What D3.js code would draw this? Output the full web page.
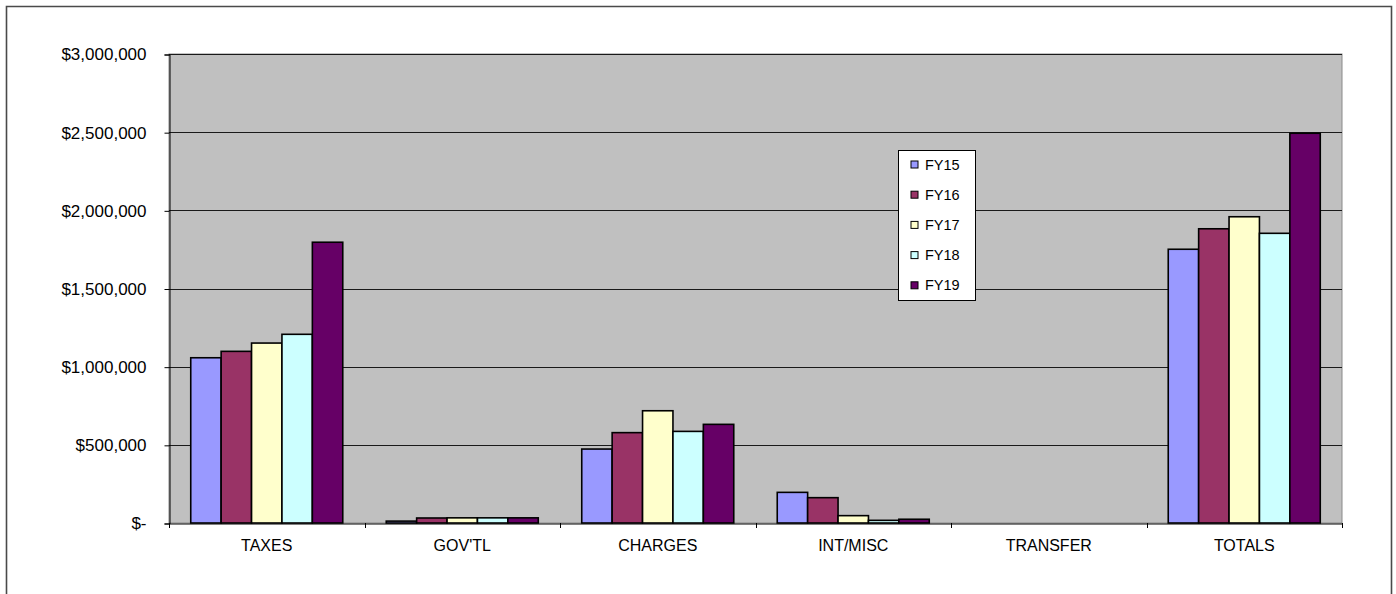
<!DOCTYPE html>
<html>
<head>
<meta charset="utf-8">
<script src="https://cdn.jsdelivr.net/npm/d3@7/dist/d3.min.js"></script>
<style>
  html, body { margin: 0; padding: 0; background: #fff; }
  svg { display: block; font-family: "Liberation Sans", Arial, sans-serif; }
</style>
</head>
<body>
<svg id="chart" width="1396" height="594"></svg>
<script>
// Revenue by source, fiscal years 15–19
const categories = ["TAXES", "GOV'TL", "CHARGES", "INT/MISC", "TRANSFER", "TOTALS"];
const seriesNames = ["FY15", "FY16", "FY17", "FY18", "FY19"];
const seriesColors = ["#9999FF", "#993366", "#FFFFCC", "#CCFFFF", "#660066"];

const fy15 = [1057000, 12000, 473000, 196000, 0, 1751000];
const fy16 = [1098000, 32000, 578000, 162000, 0, 1882000];
const fy17 = [1151000, 33000, 718000, 47000, 0, 1959000];
const fy18 = [1207000, 33000, 586000, 17000, 0, 1853000];
const fy19 = [1796000, 33000, 631000, 24000, 0, 2493000];
const seriesValues = [fy15, fy16, fy17, fy18, fy19];

const yTicks = [0, 500000, 1000000, 1500000, 2000000, 2500000, 3000000];

const svg = d3.select("#chart");
const plot = { left: 169, right: 1342, top: 54, bottom: 523 };
const FONT = "'Liberation Sans', Arial, sans-serif";

// Outer chart frame (open at the bottom edge)
svg.append("path")
  .attr("d", "M6.5,594 L6.5,6.5 L1391.5,6.5 L1391.5,594")
  .attr("fill", "none")
  .attr("stroke", "#4a4a4a")
  .attr("stroke-width", 1.6);

const x0 = d3.scaleBand().domain(categories).range([plot.left, plot.right]).paddingInner(0).paddingOuter(0);
const x1 = d3.scaleBand().domain(seriesNames).range([0, x0.bandwidth()]).paddingInner(0).paddingOuter(0.715);
const y = d3.scaleLinear().domain([0, 3000000]).range([plot.bottom, plot.top]);

// Plot area
svg.append("rect")
  .attr("x", plot.left).attr("y", plot.top)
  .attr("width", plot.right - plot.left).attr("height", plot.bottom - plot.top)
  .attr("fill", "#C0C0C0")
  .attr("stroke", "#8a8a8a").attr("stroke-width", 1);

// Horizontal gridlines
svg.append("g").selectAll("line")
  .data(yTicks.filter(d => d > 0))
  .join("line")
  .attr("x1", plot.left).attr("x2", plot.right)
  .attr("y1", d => Math.round(y(d)) + 0.5).attr("y2", d => Math.round(y(d)) + 0.5)
  .attr("stroke", "#1a1a1a").attr("stroke-width", 1);

// Y axis
const fmt = d3.format(",");
const yAxis = d3.axisLeft(y)
  .tickValues(yTicks)
  .tickSize(5)
  .tickPadding(18)
  .tickFormat(d => d === 0 ? "$-" : "$" + fmt(d));
const gy = svg.append("g").attr("transform", `translate(${plot.left + 0.5},0.5)`).call(yAxis);
gy.attr("font-size", null).attr("font-family", null);
gy.select(".domain").attr("stroke", "#000");
gy.selectAll(".tick line").attr("stroke", "#000");
gy.selectAll(".tick text").attr("font-size", 17).attr("fill", "#000").attr("font-family", FONT);

// Bars
const groups = svg.append("g").selectAll("g")
  .data(seriesNames.map((name, i) => ({ name, color: seriesColors[i], values: seriesValues[i] })))
  .join("g")
  .attr("fill", d => d.color);

groups.selectAll("rect")
  .data(d => d.values.map((v, j) => ({ series: d.name, cat: categories[j], v })).filter(e => e.v > 0))
  .join("rect")
  .attr("x", d => x0(d.cat) + x1(d.series))
  .attr("y", d => y(d.v))
  .attr("width", x1.bandwidth())
  .attr("height", d => y(0) - y(d.v))
  .attr("stroke", "#000")
  .attr("stroke-width", 1.6);

// X axis
const xAxis = d3.axisBottom(x0).tickSize(0).tickPadding(16);
const gx = svg.append("g").attr("transform", `translate(0,${plot.bottom + 0.5})`).call(xAxis);
gx.attr("font-size", null).attr("font-family", null);
gx.select(".domain").attr("stroke", "#000");
gx.selectAll(".tick text").attr("font-size", 16).attr("fill", "#000").attr("font-family", FONT);

// Category boundary tick marks
const bounds = categories.map(c => x0(c)).concat([plot.right]);
svg.append("g").selectAll("line")
  .data(bounds)
  .join("line")
  .attr("x1", d => Math.round(d) + 0.5).attr("x2", d => Math.round(d) + 0.5)
  .attr("y1", plot.bottom).attr("y2", plot.bottom + 5)
  .attr("stroke", "#000");

// Legend
const legend = svg.append("g").attr("transform", "translate(898.5,150.5)");
legend.append("rect")
  .attr("width", 77).attr("height", 150)
  .attr("fill", "#fff").attr("stroke", "#000").attr("stroke-width", 1);
const items = legend.selectAll("g.item")
  .data(seriesNames.map((name, i) => ({ name, color: seriesColors[i] })))
  .join("g")
  .attr("class", "item")
  .attr("transform", (d, i) => `translate(0,${14 + i * 30.2})`);
items.append("rect")
  .attr("x", 12.5).attr("y", -3.5).attr("width", 7).attr("height", 7)
  .attr("fill", d => d.color).attr("stroke", "#000").attr("stroke-width", 1);
items.append("text")
  .attr("x", 26.5).attr("y", 0).attr("dy", "0.35em")
  .attr("font-size", 14.5).attr("fill", "#000").attr("font-family", FONT)
  .text(d => d.name);
</script>
</body>
</html>
